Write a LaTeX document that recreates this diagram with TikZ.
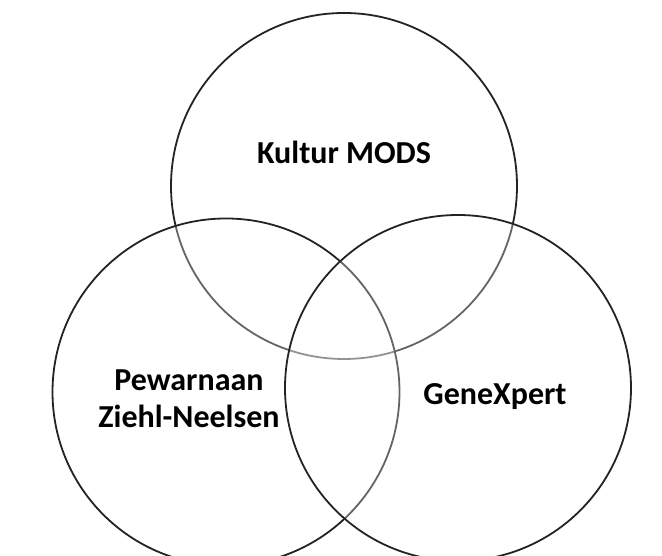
\documentclass[tikz,border=0pt]{standalone}
\usepackage{fontspec}
\setmainfont{Carlito}
\usetikzlibrary{positioning}
\definecolor{ringgray}{RGB}{35,35,35}
\newcommand{\vennfont}{\fontsize{32}{37}\selectfont\bfseries}

\begin{document}
\begin{tikzpicture}[x=1pt,y=1pt, every node/.style={font=\vennfont}]
      \useasboundingbox (0,0) rectangle (662,556);
      \node[circle,draw=ringgray,line width=1.8pt,fill=white,fill opacity=0.3,minimum size=346pt] (mods) at (344,370) {};
      \node[circle,draw=ringgray,line width=1.8pt,fill=white,fill opacity=0.3,minimum size=347pt] (zn) at (226,164) {};
      \node[circle,draw=ringgray,line width=1.8pt,fill=white,fill opacity=0.3,minimum size=346pt] (gx) at (458,168) {};
      \node[align=center] (modstext) at ([yshift=34pt]mods.center) {Kultur MODS};
      \node[align=center] (zntext) at ([xshift=-37pt,yshift=-7pt]zn.center) {Pewarnaan\\Ziehl-Neelsen};
      \node[align=center] (gxtext) at ([xshift=37pt,yshift=-9pt]gx.center) {GeneXpert};
    \end{tikzpicture}
\end{document}
